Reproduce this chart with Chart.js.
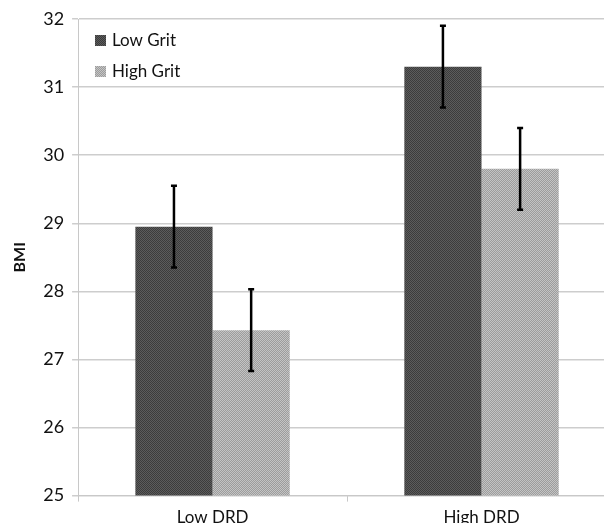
<!DOCTYPE html>
<html>
<head>
<meta charset="utf-8">
<script src="https://cdn.jsdelivr.net/npm/chart.js@4.4.0/dist/chart.umd.min.js"></script>
<style>
  html, body { margin: 0; padding: 0; background: #fff; overflow: hidden; }
  #wrap { width: 604px; height: 523px; overflow: hidden; }
</style>
</head>
<body>
<div id="wrap"><canvas id="bmiChart" width="616" height="534"></canvas></div>
<script>
// datos
const categories = ['Low DRD', 'High DRD'];
const seriesNames = ['Low Grit', 'High Grit'];
const lowGrit = [28.95, 31.3];
const highGrit = [27.43, 29.8];
const lowGritErr = [0.6, 0.6];
const highGritErr = [0.6, 0.6];
const yTicks = [25, 26, 27, 28, 29, 30, 31, 32];

// patrones de relleno (trama fina como en el original)
function makePattern(kind) {
  const c = document.createElement('canvas');
  c.width = 4; c.height = 4;
  const g = c.getContext('2d');
  if (kind === 'dark') {
    g.fillStyle = '#5c5c5c'; g.fillRect(0, 0, 4, 4);
    g.fillStyle = '#3c3c3c';
    for (let y = 0; y < 4; y++) for (let x = 0; x < 4; x++) if ((x + y) % 2 === 0) g.fillRect(x, y, 1, 1);
  } else {
    g.fillStyle = '#c4c4c4'; g.fillRect(0, 0, 4, 4);
    g.fillStyle = '#9c9c9c';
    for (let i = 0; i < 4; i++) { g.fillRect(i, 3 - i, 1, 1); g.fillRect((i + 2) % 4, 3 - i, 1, 1); }
  }
  return g.createPattern(c, 'repeat');
}
const darkFill = makePattern('dark');
const lightFill = makePattern('light');

// barras de error
const errorBars = {
  id: 'errorBars',
  afterDatasetsDraw(chart) {
    const ctx = chart.ctx;
    const y = chart.scales.y;
    const errs = [lowGritErr, highGritErr];
    ctx.save();
    ctx.strokeStyle = '#000';
    ctx.lineWidth = 2.5;
    chart.data.datasets.forEach((ds, i) => {
      chart.getDatasetMeta(i).data.forEach((bar, j) => {
        const v = ds.data[j], e = errs[i][j];
        const top = y.getPixelForValue(v + e), bot = y.getPixelForValue(v - e);
        ctx.beginPath();
        ctx.moveTo(bar.x, top); ctx.lineTo(bar.x, bot);
        ctx.moveTo(bar.x - 3, top); ctx.lineTo(bar.x + 3, top);
        ctx.moveTo(bar.x - 3, bot); ctx.lineTo(bar.x + 3, bot);
        ctx.stroke();
      });
    });
    ctx.restore();
  }
};

// leyenda dentro del área del gráfico
const innerLegend = {
  id: 'innerLegend',
  afterDraw(chart) {
    const ctx = chart.ctx;
    const fills = [darkFill, lightFill];
    ctx.save();
    ctx.font = '17px Lato';
    ctx.textBaseline = 'middle';
    seriesNames.forEach((name, i) => {
      const cy = 40 + i * 31;
      ctx.fillStyle = fills[i];
      ctx.fillRect(95, cy - 5, 11, 11);
      ctx.fillStyle = '#111';
      ctx.fillText(name, 112, cy + 1);
    });
    ctx.restore();
  }
};

new Chart(document.getElementById('bmiChart'), {
  type: 'bar',
  data: {
    labels: categories,
    datasets: [
      { label: seriesNames[0], data: lowGrit, backgroundColor: darkFill, categoryPercentage: 0.574, barPercentage: 1 },
      { label: seriesNames[1], data: highGrit, backgroundColor: lightFill, categoryPercentage: 0.574, barPercentage: 1 }
    ]
  },
  options: {
    responsive: false,
    animation: false,
    layout: { padding: { top: 19, right: 0, bottom: 0, left: 10 } },
    plugins: { legend: { display: false }, tooltip: { enabled: false } },
    scales: {
      x: {
        grid: { drawOnChartArea: false, drawTicks: true, tickLength: 6, color: '#c8c8c8' },
        border: { color: '#c8c8c8' },
        ticks: { color: '#111', font: { family: 'Lato', size: 17 }, padding: 6 }
      },
      y: {
        min: 25, max: 32,
        afterBuildTicks: (axis) => { axis.ticks = yTicks.map(v => ({ value: v })); },
        grid: { color: '#cdcdcd', lineWidth: 1.5, tickLength: 6 },
        border: { color: '#c8c8c8' },
        title: { display: true, text: 'BMI', color: '#111', font: { family: 'Lato', size: 16, weight: 'bold' }, padding: { top: 0, bottom: 6 } },
        ticks: { color: '#111', font: { family: 'Lato', size: 18 }, padding: 8 }
      }
    }
  },
  plugins: [errorBars, innerLegend]
});
</script>
</body>
</html>
